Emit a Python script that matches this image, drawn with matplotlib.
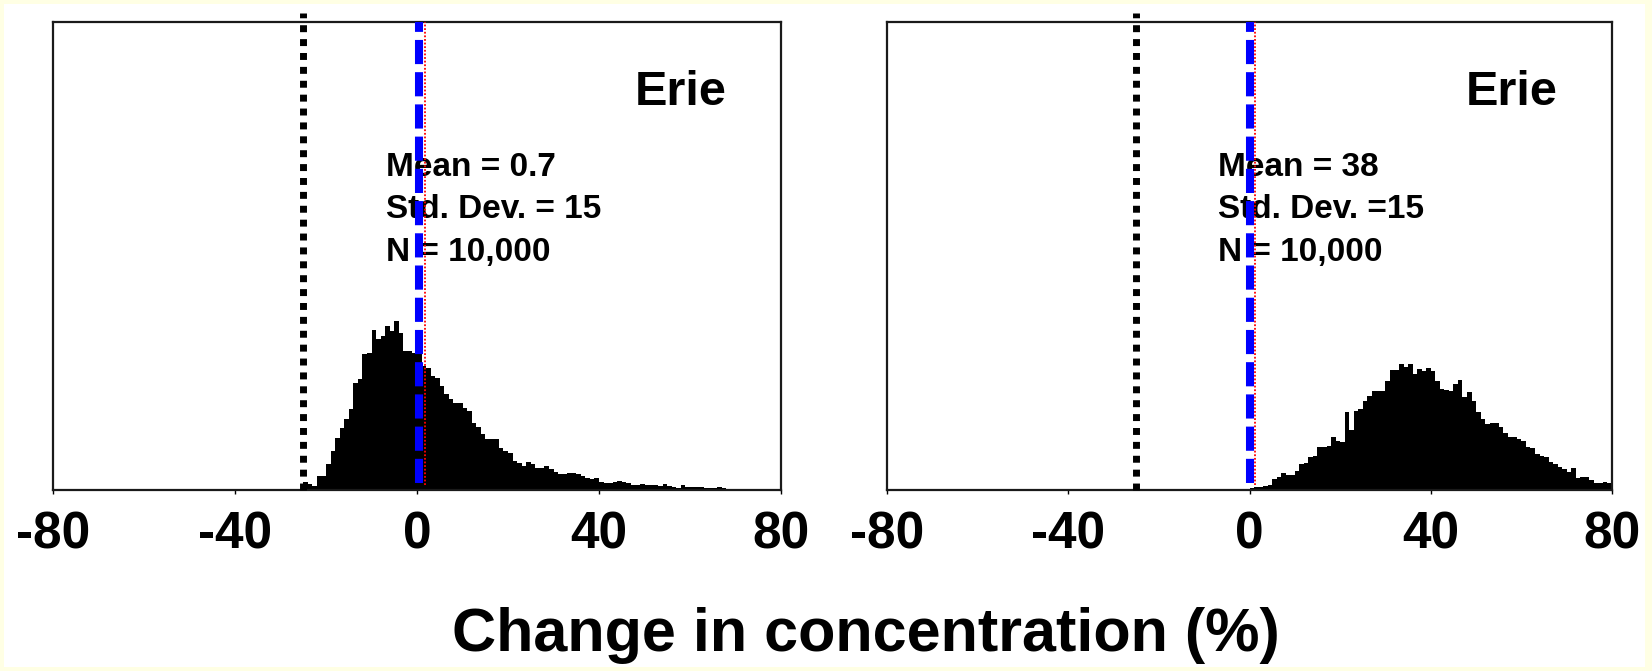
import numpy as np
import matplotlib.pyplot as plt
from matplotlib.patches import Rectangle

plt.rcParams['font.family'] = ['Liberation Sans', 'DejaVu Sans']
plt.rcParams['font.weight'] = 'bold'

# histogram heights (relative frequency, 1% bins)
left_start = -25
left_freq = [8, 6, 4, 14, 14, 26, 39, 52, 62, 71, 81, 107, 111, 136, 137, 160, 151, 154,
             164, 159, 169, 157, 139, 139, 137, 141, 124, 122, 114, 112, 104, 96, 91, 87,
             87, 82, 79, 67, 63, 56, 51, 51, 51, 42, 39, 37, 29, 27, 24, 28, 26, 22, 22,
             24, 21, 18, 16, 16, 17, 17, 16, 14, 12, 11, 12, 8, 7, 7,
             8, 9, 8, 7, 5, 5, 6, 5, 5, 5, 4, 6, 4, 3, 2, 5, 3, 3, 3, 3, 2, 2, 2, 3, 2,
             1, 1, 1, 1, 1, 1, 0.5, 0.5, 1, 0.5, 0.5, 0.5]

right_start = -5
right_freq = [1, 1, 0, 1, 1,
              2, 3, 3, 4, 5, 11, 13, 17, 15, 15, 19, 26, 27, 33, 34, 43, 43, 44, 53, 49,
              48, 78, 60, 79, 81,
              89, 94, 99, 99, 99, 109, 120, 120, 126, 123, 126, 116, 121, 119, 122, 119,
              109, 101, 100, 99, 106, 110, 93, 98, 89, 78, 71, 66,
              67, 67, 63, 57, 53, 53, 51, 49, 43, 42, 36, 34, 33, 28, 26, 23, 21, 18, 22,
              12, 13, 13, 10, 7, 7, 8, 7]

# reference lines (black dotted, blue dashed, red dotted)
black_x = [-25, -25]
blue_x = [0.5, 0.1]
red_x = [1.8, 1.2]

stats = [["Mean = 0.7", "Std. Dev. = 15", "N = 10,000"],
         ["Mean = 38", "Std. Dev. =15", "N = 10,000"]]
lake = "Erie"
xticks = [-80, -40, 0, 40, 80]

W, H = 1652, 671
fig = plt.figure(figsize=(W / 100, H / 100), dpi=100)
fig.patch.set_facecolor('#FFFFE4')
fig.add_artist(Rectangle((4 / W, 4 / H), (W - 11) / W, (H - 8) / H,
                         transform=fig.transFigure, facecolor='white',
                         edgecolor='none', zorder=-10))

boxes = [[53 / W, 181 / H, 728 / W, 468 / H],
         [887 / W, 181 / H, 725 / W, 468 / H]]
series = [(left_start, left_freq), (right_start, right_freq)]

for i, (start, freq) in enumerate(series):
    ax = fig.add_axes(boxes[i])
    edges = np.arange(start, start + len(freq) + 1)
    ax.stairs(freq, edges, fill=True, color='black', linewidth=0, zorder=2)

    ax.axvline(black_x[i], ymin=0, ymax=1.02, color='black', lw=5,
               linestyle=(0, (1, 1)), clip_on=False, zorder=4)
    ax.axvline(red_x[i], ymin=0.01, ymax=1.0, color='red', lw=1.3,
               linestyle=(0, (1, 1)), zorder=4)
    ax.axvline(blue_x[i], ymin=0.015, ymax=1.0, color='#0000FF', lw=5.8,
               linestyle=(0, (3, 1)), zorder=5)

    ax.set_xlim(-80, 80)
    ax.set_ylim(0, 468)
    ax.set_xticks(xticks)
    ax.set_xticklabels([str(t) for t in xticks])
    ax.set_yticks([])
    ax.tick_params(axis='x', direction='out', length=3, width=1, pad=12,
                   labelsize=37)
    for lab in ax.get_xticklabels():
        lab.set_fontweight('bold')
    for sp in ax.spines.values():
        sp.set_linewidth(1.6)
        sp.set_color('#1a1a1a')

    ax.text(0.925, 0.823, lake, transform=ax.transAxes, ha='right',
            va='baseline', fontsize=35, fontweight='bold', zorder=3)
    for j, line in enumerate(stats[i]):
        ax.text(0.457, 0.672 - j * 0.091, line, transform=ax.transAxes,
                ha='left', va='baseline', fontsize=24, fontweight='bold', zorder=3)

fig.text(0.524, 1 - 635 / H, "Change in concentration (%)", ha='center',
         va='center', fontsize=44, fontweight='bold')

plt.savefig("out.png", dpi=100)
